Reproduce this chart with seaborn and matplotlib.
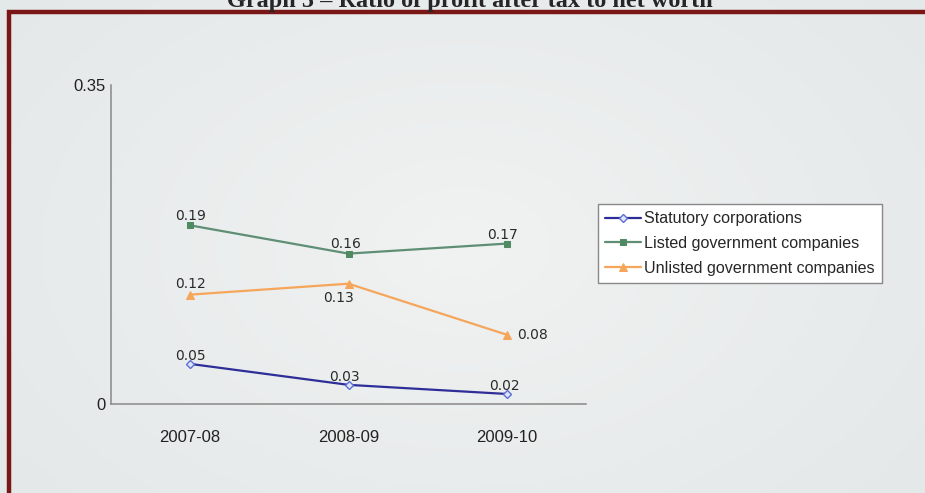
import numpy as np
import pandas as pd
import matplotlib
matplotlib.use("Agg")
import matplotlib.pyplot as plt
from matplotlib.patches import Rectangle
import seaborn as sns

# data
years = ["2007-08", "2008-09", "2009-10"]
statutory = [0.044, 0.021, 0.011]
listed = [0.196, 0.165, 0.176]
unlisted = [0.120, 0.132, 0.076]
statutory_lbl = ["0.05", "0.03", "0.02"]
listed_lbl = ["0.19", "0.16", "0.17"]
unlisted_lbl = ["0.12", "0.13", "0.08"]
series_names = ["Statutory corporations", "Listed government companies",
                "Unlisted government companies"]

sns.set_style("white")
plt.rcParams['font.family'] = ['Liberation Sans', 'DejaVu Sans']

fig = plt.figure(figsize=(9.25, 4.93), dpi=100)

# background gradient
bg = fig.add_axes([0, 0, 1, 1], zorder=-2)
yy, xx = np.mgrid[0:1:200j, 0:1:400j]
r = np.sqrt(((xx - 0.5) / 0.8) ** 2 + ((yy - 0.5) / 1.0) ** 2)
r = np.clip(r, 0, 1)
c0 = np.array([0.945, 0.950, 0.950])
c1 = np.array([0.880, 0.900, 0.900])
img = c0[None, None, :] * (1 - r[..., None]) + c1[None, None, :] * r[..., None]
bg.imshow(img, extent=[0, 1, 0, 1], aspect='auto')
bg.axis('off')

# dark red frame
fig.patches.append(Rectangle((8.5 / 925, -0.05), 1.1, 1.05 - 12.5 / 493,
                             transform=fig.transFigure, fill=False,
                             edgecolor='#7a1616', linewidth=3.2))

# title, cut at the top edge as in the source image
fig.text(0.508, 1 - 7 / 493, "Graph 5 – Ratio of profit after tax to net worth",
         ha='center', va='baseline', fontsize=17.5, fontweight='bold',
         family=['Liberation Serif', 'DejaVu Serif'])

ax = fig.add_axes([111 / 925, 1 - 404 / 493, 475 / 925, 319 / 493])
ax.set_facecolor('none')

styles = [
    dict(color='#2e2e99', marker='D', markersize=4.5, markeredgecolor='#5a6fd8',
         markerfacecolor='#dfe5f7', markeredgewidth=1.0),
    dict(color='#5e8f75', marker='s', markersize=4.5, markeredgecolor='#4f8a60',
         markerfacecolor='#4f8a60'),
    dict(color='#f5a65a', marker='^', markersize=5.5, markeredgecolor='#f5a65a',
         markerfacecolor='#f5a65a'),
]
all_vals = [statutory, listed, unlisted]
for name, vals, st in zip(series_names, all_vals, styles):
    sns.lineplot(x=years, y=vals, ax=ax, label=name, linewidth=1.6, **st)

label_offsets = [
    [(0, 8), (-4, 8), (-2, 8)],
    [(0, 9), (-3, 10), (-4, 9)],
    [(0, 11), (-10, -14), (26, 0)],
]
labels = [statutory_lbl, listed_lbl, unlisted_lbl]
for vals, lbls, offs in zip(all_vals, labels, label_offsets):
    for i, (v, t, o) in enumerate(zip(vals, lbls, offs)):
        ax.annotate(t, (i, v), xytext=o, textcoords='offset pixels',
                    ha='center', va='center', fontsize=10, color='#2a2a2a',
                    family=['DejaVu Sans'])

ax.set_xlim(-0.5, 2.5)
ax.set_ylim(0, 0.35)
ax.set_yticks([0, 0.35])
ax.set_yticklabels(["0", "0.35"])
ax.set_xticks([0, 1, 2])
ax.set_xticklabels(years)
ax.set_xticks([-0.5, 0.5, 1.5, 2.5], minor=True)
ax.tick_params(axis='x', which='major', length=0, pad=19, labelsize=12, colors='#222222')
ax.tick_params(axis='x', which='minor', length=5, width=1, color='#888888', direction='out')
ax.tick_params(axis='y', length=4, width=1, color='#888888', direction='out',
               labelsize=12, labelcolor='#222222', pad=0)
ax.set_xlabel("")
ax.set_ylabel("")
for s in ['top', 'right']:
    ax.spines[s].set_visible(False)
for s in ['left', 'bottom']:
    ax.spines[s].set_color('#888888')
    ax.spines[s].set_linewidth(1.1)

leg = ax.legend(loc='upper left', bbox_to_anchor=(598 / 925, 1 - 204 / 493),
                bbox_transform=fig.transFigure, borderaxespad=0, fontsize=11.6,
                frameon=True, fancybox=False, framealpha=1, edgecolor='#888888',
                handlelength=2.2, handletextpad=0.2, labelspacing=0.6,
                borderpad=0.45)
leg.get_frame().set_linewidth(1.0)

fig.savefig("out.png", dpi=100)
